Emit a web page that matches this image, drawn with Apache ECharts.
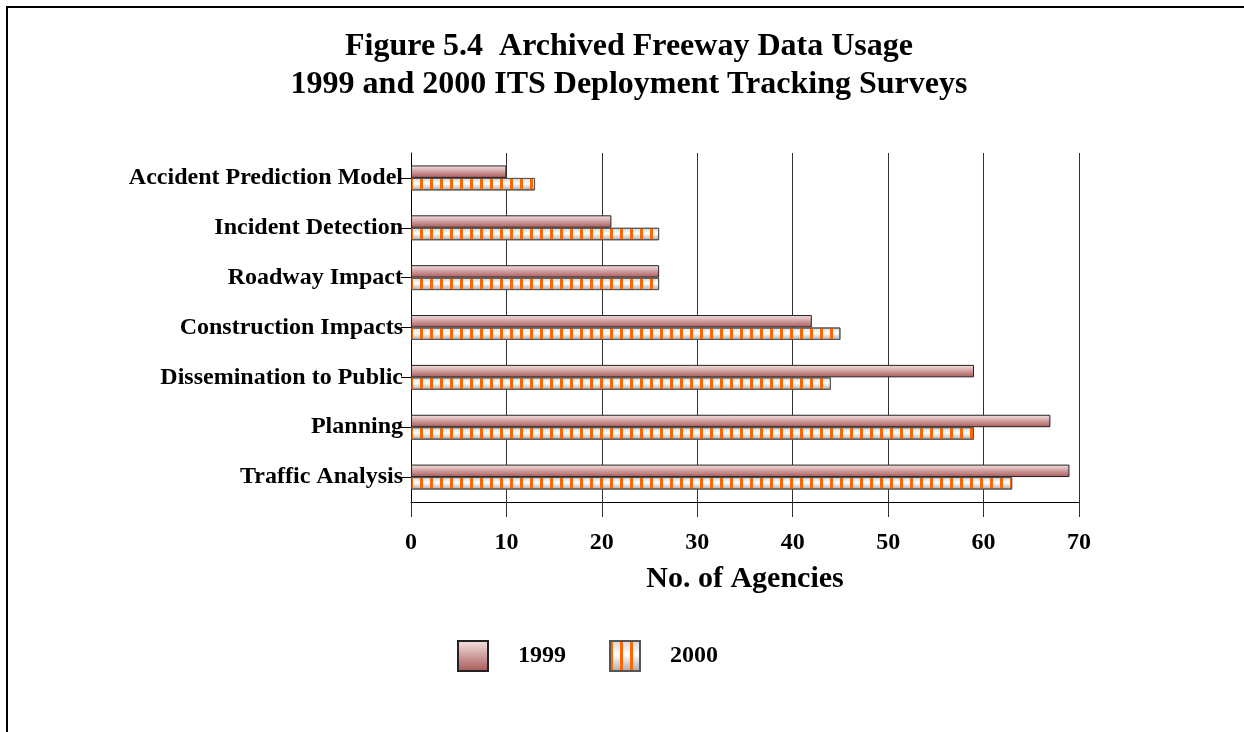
<!DOCTYPE html>
<html>
<head>
<meta charset="utf-8">
<script src="https://cdn.jsdelivr.net/npm/echarts@6/dist/echarts.min.js"></script>
<style>
  html, body { margin: 0; padding: 0; background: #fff; }
  #chart-container { width: 1244px; height: 732px; }
</style>
</head>
<body>
<div id="chart-container"></div>
<script>
var categories = ['Accident Prediction Model', 'Incident Detection', 'Roadway Impact',
    'Construction Impacts', 'Dissemination to Public', 'Planning', 'Traffic Analysis'];
var values1999 = [10, 21, 26, 42, 59, 67, 69];
var values2000 = [13, 26, 26, 45, 44, 59, 63];
var xTicks = [0, 10, 20, 30, 40, 50, 60, 70];

var font = 'Liberation Serif, Times New Roman, serif';

var dom = document.getElementById('chart-container');
var myChart = echarts.init(dom, null, { renderer: 'canvas' });

var option = {
    animation: false,
    backgroundColor: '#fff',
    title: {
        text: 'Figure 5.4  Archived Freeway Data Usage\n1999 and 2000 ITS Deployment Tracking Surveys',
        left: 629,
        textAlign: 'center',
        top: 28,
        padding: 0,
        textStyle: {
            fontFamily: font,
            fontWeight: 'bold',
            fontSize: 32,
            lineHeight: 38,
            color: '#000'
        }
    },
    graphic: [
        {
            type: 'polyline',
            shape: { points: [[7, 740], [7, 7], [1250, 7]] },
            style: { stroke: '#000', lineWidth: 2, fill: null }
        }
    ],
    legend: {
        left: 457,
        top: 640,
        padding: 0,
        itemWidth: 30,
        itemHeight: 30,
        itemGap: 43,
        icon: 'rect',
        textStyle: {
            fontFamily: font,
            fontWeight: 'bold',
            fontSize: 24,
            color: '#000',
            padding: [0, 0, 0, 25]
        },
        data: ['1999', '2000']
    },
    grid: {
        left: 411,
        right: 165,
        top: 153,
        bottom: 230,
        containLabel: false
    },
    xAxis: {
        type: 'value',
        min: 0,
        max: 70,
        interval: 10,
        name: 'No. of Agencies',
        nameLocation: 'middle',
        nameGap: 62,
        nameTextStyle: {
            fontFamily: font,
            fontWeight: 'bold',
            fontSize: 30,
            color: '#000'
        },
        axisLine: { show: true, lineStyle: { color: '#000', width: 1 } },
        axisTick: { show: true, length: 15, lineStyle: { color: '#333' } },
        axisLabel: {
            margin: 29,
            fontFamily: font,
            fontWeight: 'bold',
            fontSize: 24,
            color: '#000',
            formatter: function (v) { return xTicks.indexOf(v) >= 0 ? String(v) : ''; }
        },
        splitLine: { show: true, lineStyle: { color: '#333', width: 1 } }
    },
    yAxis: {
        type: 'category',
        inverse: true,
        data: categories,
        axisLine: { show: true, lineStyle: { color: '#000', width: 1 } },
        axisTick: { show: true, alignWithLabel: true, length: 10, lineStyle: { color: '#000' } },
        axisLabel: {
            margin: 8,
            fontFamily: font,
            fontWeight: 'bold',
            fontSize: 24,
            color: '#000'
        }
    },
    series: [
        {
            name: '1999',
            type: 'bar',
            data: values1999,
            barGap: '0%',
            barCategoryGap: '50%',
            itemStyle: {
                color: new echarts.graphic.LinearGradient(0, 0, 0, 1, [
                    { offset: 0, color: '#f6e4e4' },
                    { offset: 1, color: '#a85656' }
                ]),
                borderColor: '#222',
                borderWidth: 1
            }
        },
        {
            name: '2000',
            type: 'bar',
            data: values2000,
            itemStyle: {
                color: new echarts.graphic.LinearGradient(0, 0, 0, 1, [
                    { offset: 0, color: '#d4d4d4' },
                    { offset: 0.45, color: '#ffffff' },
                    { offset: 1, color: '#a8a8a8' }
                ]),
                borderColor: '#555',
                borderWidth: 1,
                decal: {
                    symbol: 'rect',
                    symbolSize: 1,
                    color: '#ff6600',
                    dashArrayX: [3, 7],
                    dashArrayY: [10, 0],
                    rotation: 0
                }
            }
        }
    ]
};

myChart.setOption(option);
window.addEventListener('resize', myChart.resize);
</script>
</body>
</html>
